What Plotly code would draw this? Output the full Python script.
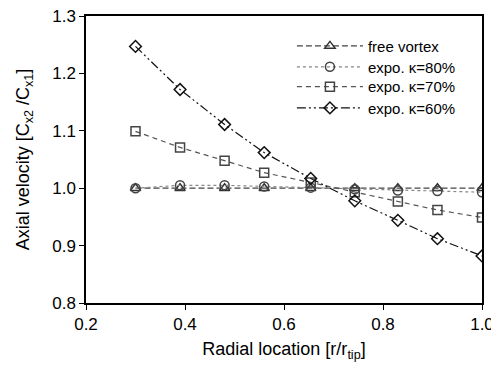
import plotly.graph_objects as go

r = [0.30, 0.39, 0.48, 0.56, 0.654, 0.743, 0.83, 0.91, 1.0]
free_vortex = [1.0, 1.0, 1.0, 1.0, 1.0, 1.0, 1.0, 1.0, 1.0]
k80 = [1.0, 1.005, 1.005, 1.003, 1.001, 0.998, 0.996, 0.995, 0.993]
k70 = [1.099, 1.071, 1.048, 1.027, 1.01, 0.993, 0.977, 0.962, 0.949]
k60 = [1.247, 1.172, 1.111, 1.062, 1.017, 0.978, 0.944, 0.912, 0.882]

names = ["free vortex", "expo. \u03ba=80%", "expo. \u03ba=70%", "expo. \u03ba=60%"]
series = [free_vortex, k80, k70, k60]
symbols = ["triangle-up-open", "circle-open", "square-open", "diamond-open"]
dashes = ["6px,3px", "dot", "5px,4px", "9px,3px,2px,3px,2px,3px"]
colors = ["#444444", "#888888", "#555555", "#111111"]
mcolors = ["#333333", "#444444", "#444444", "#111111"]
legend_ids = ["legend", "legend2", "legend3", "legend4"]
legend_y = [0.895, 0.822, 0.753, 0.679]

FONT = "Liberation Sans, Arial, sans-serif"

fig = go.Figure()
for nm, ys, sym, d, c, mc, lg in zip(names, series, symbols, dashes, colors, mcolors, legend_ids):
    fig.add_trace(go.Scatter(
        x=r, y=ys, name=nm, mode="lines+markers", legend=lg,
        line=dict(color=c, width=1.2, dash=d),
        marker=dict(symbol=sym, size=9, color=mc, line=dict(color=mc, width=1.5)),
    ))

axis_common = dict(
    showgrid=False, zeroline=False, showline=True, linecolor="black", linewidth=1.5,
    mirror=True, ticks="outside", ticklen=5, tickcolor="black", automargin=False,
    ticklabeloverflow="allow",
    tickfont=dict(family=FONT, size=17, color="black"),
)
fig.update_xaxes(range=[0.2, 1.0], tickvals=[0.2, 0.4, 0.6, 0.8, 1.0],
                 ticktext=["0.2", "0.4", "0.6", "0.8", "1.0"],
                 title=dict(text="Radial location [r/r<sub>tip</sub>]", standoff=10,
                            font=dict(family=FONT, size=18, color="black")),
                 **axis_common)
fig.update_yaxes(range=[0.8, 1.3], tickvals=[0.8, 0.9, 1.0, 1.1, 1.2, 1.3],
                 ticktext=["0.8", "0.9", "1.0", "1.1", "1.2", "1.3"],
                 title=dict(text="Axial velocity [C<sub>x2</sub> /C<sub>x1</sub>]", standoff=18,
                            font=dict(family=FONT, size=18, color="black")),
                 **axis_common)

legend_style = dict(x=0.52, xanchor="left", yanchor="middle",
                    bgcolor="rgba(0,0,0,0)", itemwidth=66,
                    font=dict(family=FONT, size=15, color="black"))

layout_legends = {}
for lg, ly in zip(legend_ids, legend_y):
    layout_legends[lg] = dict(y=ly, **legend_style)

fig.update_layout(
    width=491, height=354,
    margin=dict(l=78, r=17, t=8, b=59, autoexpand=False),
    paper_bgcolor="white", plot_bgcolor="white",
    showlegend=True,
    **layout_legends,
)

fig.write_html("out.html")
